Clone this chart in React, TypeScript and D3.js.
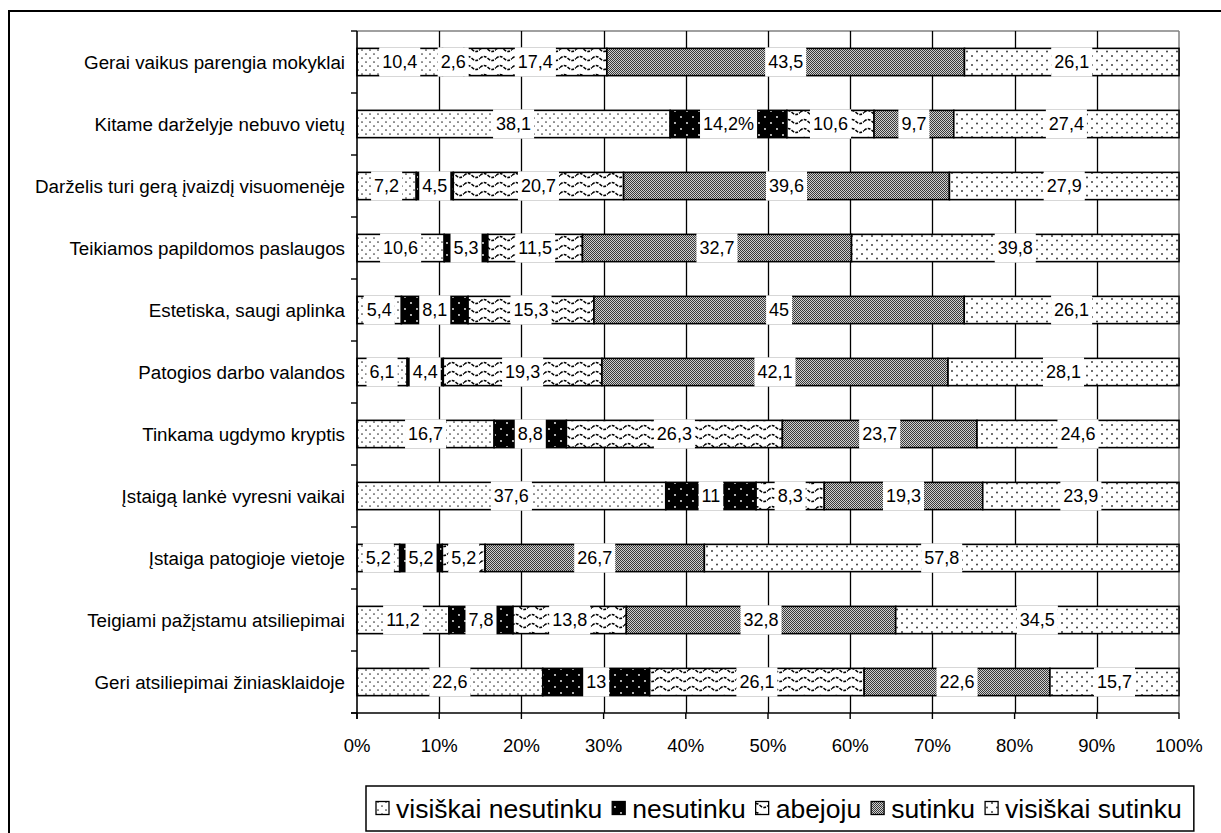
import React, { useEffect, useRef } from 'react';
import * as d3 from 'd3';

// Survey statements (rows, top to bottom)
const categories = [
  'Gerai vaikus parengia mokyklai',
  'Kitame darželyje nebuvo vietų',
  'Darželis turi gerą įvaizdį visuomenėje',
  'Teikiamos papildomos paslaugos',
  'Estetiska, saugi aplinka',
  'Patogios darbo valandos',
  'Tinkama ugdymo kryptis',
  'Įstaigą lankė vyresni vaikai',
  'Įstaiga patogioje vietoje',
  'Teigiami pažįstamu atsiliepimai',
  'Geri atsiliepimai žiniasklaidoje',
];

const seriesNames = ['visiškai nesutinku', 'nesutinku', 'abejoju', 'sutinku', 'visiškai sutinku'];

// Answer shares (%) per statement, one array per answer
const visiskaiNesutinku = [10.4, 38.1, 7.2, 10.6, 5.4, 6.1, 16.7, 37.6, 5.2, 11.2, 22.6];
const nesutinku = [2.6, 14.2, 4.5, 5.3, 8.1, 4.4, 8.8, 11, 5.2, 7.8, 13];
const abejoju = [17.4, 10.6, 20.7, 11.5, 15.3, 19.3, 26.3, 8.3, 5.2, 13.8, 26.1];
const sutinku = [43.5, 9.7, 39.6, 32.7, 45, 42.1, 23.7, 19.3, 26.7, 32.8, 22.6];
const visiskaiSutinku = [26.1, 27.4, 27.9, 39.8, 26.1, 28.1, 24.6, 23.9, 57.8, 34.5, 15.7];

// Value labels that carry a percent sign
const percentLabels = [{ row: 1, series: 1 }];

const xTickValues = [0, 0.1, 0.2, 0.3, 0.4, 0.5, 0.6, 0.7, 0.8, 0.9, 1];

const FONT = '"Liberation Sans", Arial, sans-serif';

export default function App() {
  const ref = useRef<SVGSVGElement | null>(null);

  useEffect(() => {
    const svg = d3.select(ref.current);
    svg.selectAll('*').remove();

    const W = 1221;
    const H = 833;
    const left = 357;
    const right = 1179;
    const top = 31;
    const bottom = 713;

    const seriesValues = [visiskaiNesutinku, nesutinku, abejoju, sutinku, visiskaiSutinku];
    const rows = categories.map((c, i) => {
      const r: any = { category: c, index: i };
      seriesNames.forEach((s, k) => (r[s] = seriesValues[k][i]));
      return r;
    });

    const stacked = d3
      .stack<any>()
      .keys(seriesNames)
      .offset(d3.stackOffsetExpand)(rows);

    const x = d3.scaleLinear().domain([0, 1]).range([left, right]);
    const y = d3.scaleBand<string>().domain(categories).range([top, bottom]).padding(0);
    const barH = y.bandwidth() * 0.44;

    const defs = svg.append('defs');
    const patIds = ['p-vn', 'p-n', 'p-a', 'p-s', 'p-vs'];

    // visiškai nesutinku: fine staggered dots
    {
      const p = defs.append('pattern').attr('id', 'p-vn').attr('patternUnits', 'userSpaceOnUse').attr('width', 8).attr('height', 8);
      p.append('rect').attr('width', 8).attr('height', 8).attr('fill', '#fff');
      p.append('circle').attr('cx', 2).attr('cy', 2).attr('r', 0.85).attr('fill', '#333');
      p.append('circle').attr('cx', 6).attr('cy', 6).attr('r', 0.85).attr('fill', '#333');
    }
    // nesutinku: black with sparse white dots
    {
      const p = defs.append('pattern').attr('id', 'p-n').attr('patternUnits', 'userSpaceOnUse').attr('width', 12).attr('height', 12);
      p.append('rect').attr('width', 12).attr('height', 12).attr('fill', '#000');
      p.append('circle').attr('cx', 3).attr('cy', 3).attr('r', 0.9).attr('fill', '#fff');
      p.append('circle').attr('cx', 9).attr('cy', 9).attr('r', 0.9).attr('fill', '#fff');
    }
    // abejoju: wavy lines
    {
      const p = defs.append('pattern').attr('id', 'p-a').attr('patternUnits', 'userSpaceOnUse').attr('width', 16).attr('height', 9);
      p.append('rect').attr('width', 16).attr('height', 9).attr('fill', '#fff');
      p.append('path').attr('d', 'M0,4.5 Q4,0.5 8,4.5 T16,4.5').attr('fill', 'none').attr('stroke', '#000').attr('stroke-width', 1.5).attr('stroke-dasharray', '3,1.2');
    }
    // sutinku: dense grey dither
    {
      const p = defs.append('pattern').attr('id', 'p-s').attr('patternUnits', 'userSpaceOnUse').attr('width', 2).attr('height', 2);
      p.append('rect').attr('width', 2).attr('height', 2).attr('fill', '#d0d0d0');
      p.append('rect').attr('x', 0).attr('y', 0).attr('width', 1).attr('height', 1).attr('fill', '#3a3a3a');
      p.append('rect').attr('x', 1).attr('y', 1).attr('width', 1).attr('height', 1).attr('fill', '#3a3a3a');
    }
    // visiškai sutinku: sparser staggered dots
    {
      const p = defs.append('pattern').attr('id', 'p-vs').attr('patternUnits', 'userSpaceOnUse').attr('width', 10).attr('height', 9);
      p.append('rect').attr('width', 10).attr('height', 9).attr('fill', '#fff');
      p.append('circle').attr('cx', 2).attr('cy', 2).attr('r', 0.95).attr('fill', '#333');
      p.append('circle').attr('cx', 7).attr('cy', 6.5).attr('r', 0.95).attr('fill', '#333');
    }

    // Outer chart frame
    svg.append('rect').attr('x', 9).attr('y', 11).attr('width', W + 20).attr('height', H + 20)
      .attr('fill', 'none').attr('stroke', '#000').attr('stroke-width', 2);

    // Plot area border (top / right) in grey
    svg.append('line').attr('x1', left).attr('x2', right).attr('y1', top).attr('y2', top).attr('stroke', '#808080').attr('stroke-width', 1.5);
    svg.append('line').attr('x1', right).attr('x2', right).attr('y1', top).attr('y2', bottom).attr('stroke', '#808080').attr('stroke-width', 1.5);

    // Vertical gridlines
    svg.append('g').selectAll('line').data(xTickValues.slice(1, -1)).join('line')
      .attr('x1', (d) => Math.round(x(d)) + 0.5).attr('x2', (d) => Math.round(x(d)) + 0.5)
      .attr('y1', top).attr('y2', bottom).attr('stroke', '#000').attr('stroke-width', 1.3);

    // Bars
    const gBars = svg.append('g');
    stacked.forEach((layer, k) => {
      gBars.append('g').selectAll('rect').data(layer).join('rect')
        .attr('x', (d) => x(d[0]))
        .attr('width', (d) => x(d[1]) - x(d[0]))
        .attr('y', (d) => (y(d.data.category) as number) + (y.bandwidth() - barH) / 2)
        .attr('height', barH)
        .attr('fill', `url(#${patIds[k]})`)
        .attr('stroke', '#000')
        .attr('stroke-width', 1.6);
    });

    // Value labels with white boxes
    const gLab = svg.append('g');
    stacked.forEach((layer, k) => {
      layer.forEach((d, i) => {
        const v = seriesValues[k][i];
        let txt = String(v).replace('.', ',');
        if (percentLabels.some((p) => p.row === i && p.series === k)) txt += '%';
        const cx = (x(d[0]) + x(d[1])) / 2;
        const cy = (y(d.data.category) as number) + y.bandwidth() / 2;
        const g = gLab.append('g');
        const box = g.append('rect').attr('fill', '#fff');
        const t = g.append('text').attr('x', cx).attr('y', cy).attr('dy', '0.36em')
          .attr('text-anchor', 'middle').attr('font-family', FONT).attr('font-size', 18).attr('fill', '#000').text(txt);
        const bb = (t.node() as SVGTextElement).getBBox();
        box.attr('x', cx - bb.width / 2 - 3).attr('width', bb.width + 6)
          .attr('y', cy - barH / 2 - 1).attr('height', barH + 2);
      });
    });

    // Left axis
    svg.append('line').attr('x1', left).attr('x2', left).attr('y1', top).attr('y2', bottom + 6).attr('stroke', '#000').attr('stroke-width', 1.6);
    svg.append('g').selectAll('line').data(d3.range(categories.length + 1)).join('line')
      .attr('x1', left - 6).attr('x2', left)
      .attr('y1', (i) => top + i * y.step()).attr('y2', (i) => top + i * y.step())
      .attr('stroke', '#000').attr('stroke-width', 1.4);

    svg.append('g').selectAll('text').data(categories).join('text')
      .attr('x', 345).attr('y', (c) => (y(c) as number) + y.bandwidth() / 2).attr('dy', '0.36em')
      .attr('text-anchor', 'end').attr('font-family', FONT).attr('font-size', 18.8).attr('fill', '#000')
      .text((c) => c);

    // Bottom axis
    svg.append('line').attr('x1', left - 6).attr('x2', right).attr('y1', bottom).attr('y2', bottom).attr('stroke', '#000').attr('stroke-width', 1.6);
    svg.append('g').selectAll('line').data(xTickValues).join('line')
      .attr('x1', (d) => x(d)).attr('x2', (d) => x(d)).attr('y1', bottom).attr('y2', bottom + 6)
      .attr('stroke', '#000').attr('stroke-width', 1.4);
    svg.append('g').selectAll('text').data(xTickValues).join('text')
      .attr('x', (d) => x(d)).attr('y', 752).attr('text-anchor', 'middle')
      .attr('font-family', FONT).attr('font-size', 18.5).attr('fill', '#000')
      .text((d) => d3.format('.0%')(d));

    // Legend
    const lg = svg.append('g');
    const legendBox = lg.append('rect').attr('fill', '#fff').attr('stroke', '#000').attr('stroke-width', 1.5);
    const lx0 = 366;
    const ly = 808;
    let cursor = lx0 + 10;
    const mk = 13;
    seriesNames.forEach((name, k) => {
      lg.append('rect').attr('x', cursor).attr('y', ly - mk / 2).attr('width', mk).attr('height', mk)
        .attr('fill', `url(#${patIds[k]})`).attr('stroke', '#000').attr('stroke-width', 1.3);
      cursor += mk + 7;
      const t = lg.append('text').attr('x', cursor).attr('y', ly).attr('dy', '0.36em')
        .attr('font-family', FONT).attr('font-size', 26.5).attr('fill', '#000').text(name);
      cursor += (t.node() as SVGTextElement).getComputedTextLength() + 10;
    });
    legendBox.attr('x', lx0).attr('y', 786).attr('width', cursor - lx0 + 2).attr('height', 45);
  }, []);

  return (
    <svg
      ref={ref}
      width={1221}
      height={833}
      style={{ position: 'absolute', left: 0, top: 0, background: '#fff' }}
    />
  );
}
